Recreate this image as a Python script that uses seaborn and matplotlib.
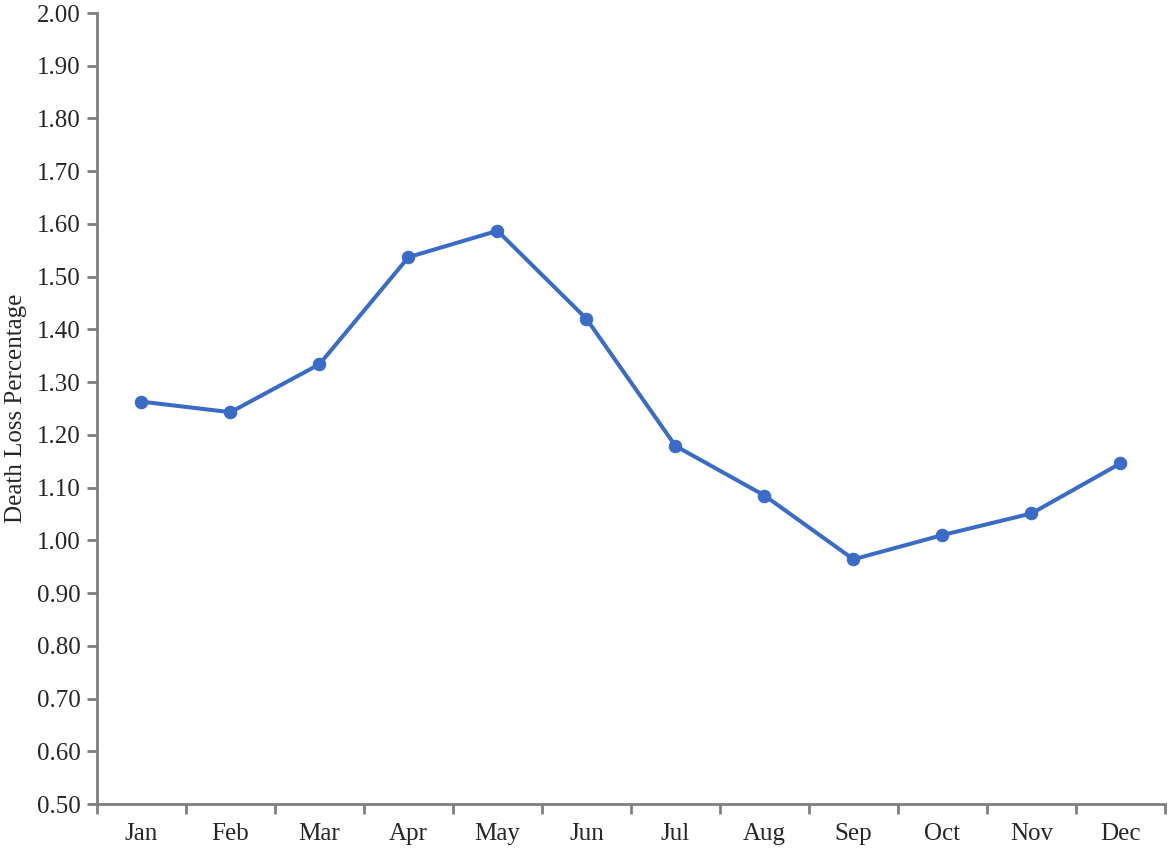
import numpy as np
import pandas as pd
import matplotlib
matplotlib.use('Agg')
import matplotlib.pyplot as plt
import seaborn as sns

# dados
meses = ['Jan', 'Feb', 'Mar', 'Apr', 'May', 'Jun', 'Jul', 'Aug', 'Sep', 'Oct', 'Nov', 'Dec']
perda = [1.263, 1.243, 1.334, 1.537, 1.587, 1.420, 1.179, 1.085, 0.964, 1.010, 1.051, 1.146]
y_ticks = [0.50, 0.60, 0.70, 0.80, 0.90, 1.00, 1.10, 1.20, 1.30, 1.40, 1.50, 1.60, 1.70, 1.80, 1.90, 2.00]

df = pd.DataFrame({'Mes': meses, 'Perda': perda})

sns.set_style('white')
plt.rcParams['font.family'] = ['Liberation Serif', 'DejaVu Serif']

fig = plt.figure(figsize=(11.7, 8.5), dpi=100)
ax = fig.add_axes([0.0829, 0.0541, 0.9128, 0.9306])

cor = '#3a6bc6'
sns.lineplot(data=df, x='Mes', y='Perda', sort=False, color=cor, linewidth=2.9,
             marker='o', markersize=9, markeredgecolor=cor, ax=ax)

n = len(meses)
ax.set_xlim(-0.5, n - 0.5)
ax.set_ylim(y_ticks[0], y_ticks[-1])

# ticks do eixo x entre as categorias (estilo Excel)
ax.set_xticks(np.arange(-0.5, n, 1.0))
ax.set_xticklabels([])
ax.set_xticks(np.arange(n), minor=True)
ax.set_xticklabels(meses, minor=True)
ax.tick_params(axis='x', which='major', direction='out', length=7, width=2, color='#7f7f7f', bottom=True)
ax.tick_params(axis='x', which='minor', length=0, pad=14, labelsize=18, colors='#262626')

ax.set_yticks(y_ticks)
ax.set_yticklabels([f'{v:.2f}' for v in y_ticks])
ax.tick_params(axis='y', direction='out', length=7, width=2, color='#7f7f7f', left=True,
               labelsize=18, labelcolor='#262626', pad=5)

for s in ['top', 'right']:
    ax.spines[s].set_visible(False)
for s in ['left', 'bottom']:
    ax.spines[s].set_color('#7f7f7f')
    ax.spines[s].set_linewidth(2)

ax.set_xlabel('')
ax.set_ylabel('Death Loss Percentage', fontsize=18, color='#262626', labelpad=7)
ax.grid(False)

fig.savefig('out.png', dpi=100)
